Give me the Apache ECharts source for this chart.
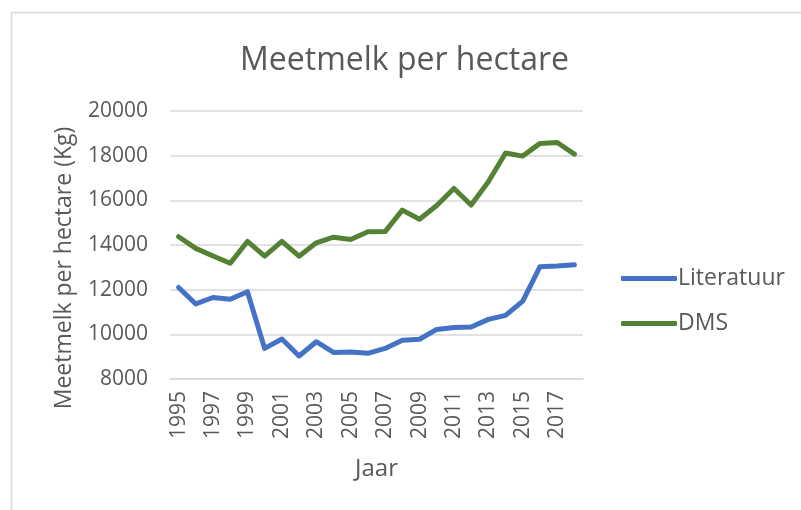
<!DOCTYPE html>
<html><head><meta charset="utf-8">
<script src="https://cdn.jsdelivr.net/npm/echarts@6/dist/echarts.min.js"></script>
<style>html,body{margin:0;padding:0;background:#fff}#c{width:801px;height:510px}</style>
</head><body><div id="c"></div>
<script>
const years = ['1995','1996','1997','1998','1999','2000','2001','2002','2003','2004','2005','2006','2007','2008','2009','2010','2011','2012','2013','2014','2015','2016','2017','2018'];
const literatuur = [12100,11360,11650,11570,11910,9370,9790,9030,9670,9190,9210,9150,9370,9740,9780,10220,10310,10330,10670,10850,11490,13030,13060,13120];
const dms = [14370,13850,13510,13180,14160,13500,14160,13500,14100,14350,14250,14590,14600,15560,15150,15770,16530,15790,16830,18120,17980,18550,18590,18070];
const yTicks = {min: 8000, max: 20000, interval: 2000};
const seriesNames = ['Literatuur', 'DMS'];
const font = '"Open Sans", sans-serif';
const chart = echarts.init(document.getElementById('c'), null, {renderer: 'canvas'});
chart.setOption({
  animation: false,
  backgroundColor: '#fff',
  graphic: [{type: 'rect', shape: {x: 11.5, y: 12.5, width: 820, height: 520}, style: {fill: 'none', stroke: '#d9d9d9', lineWidth: 1.5}, silent: true}],
  title: {text: 'Meetmelk per hectare', left: 235, top: 40, textStyle: {fontFamily: font, fontSize: 32, fontWeight: 'normal', color: '#595959'}},
  grid: {left: 170, right: 218, top: 111, bottom: 131, containLabel: false},
  legend: {orient: 'vertical', left: 616, top: 262, itemWidth: 56, itemHeight: 5, itemGap: 22, icon: 'roundRect',
    textStyle: {fontFamily: font, fontSize: 23, color: '#595959', padding: [0,0,0,-4]}, data: seriesNames},
  xAxis: {type: 'category', data: years, boundaryGap: true,
    axisLine: {show: true, lineStyle: {color: '#d9d9d9', width: 1.5}}, axisTick: {show: false},
    axisLabel: {rotate: 90, interval: 1, margin: 12, fontFamily: font, fontSize: 21, color: '#595959'},
    name: 'Jaar', nameLocation: 'middle', nameGap: 78, nameTextStyle: {fontFamily: font, fontSize: 24, color: '#595959'}},
  yAxis: {type: 'value', min: yTicks.min, max: yTicks.max, interval: yTicks.interval,
    axisLine: {show: false}, axisTick: {show: false},
    splitLine: {lineStyle: {color: '#d9d9d9', width: 1.5}},
    axisLabel: {margin: 22, fontFamily: font, fontSize: 21, color: '#595959', formatter: v => String(v)},
    name: 'Meetmelk per hectare (Kg)', nameLocation: 'middle', nameRotate: 90, nameGap: 94,
    nameTextStyle: {fontFamily: font, fontSize: 23, color: '#595959', padding: [0, 46, 0, 0]}},
  series: [
    {name: seriesNames[0], type: 'line', data: literatuur, symbol: 'none', lineStyle: {color: '#4472C4', width: 5, cap: 'round', join: 'round'}, itemStyle: {color: '#4472C4'}},
    {name: seriesNames[1], type: 'line', data: dms, symbol: 'none', lineStyle: {color: '#548235', width: 5, cap: 'round', join: 'round'}, itemStyle: {color: '#548235'}}
  ]
});
</script></body></html>
